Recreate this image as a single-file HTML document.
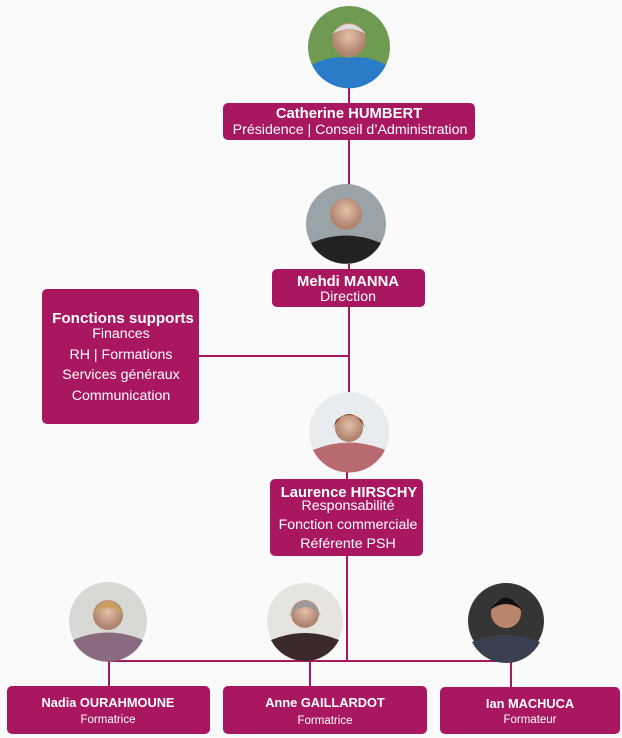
<!DOCTYPE html>
<html><head><meta charset="utf-8"><style>
html,body{margin:0;padding:0;background:#fafafa;}
svg{display:block}
text{font-family:"Liberation Sans",sans-serif;fill:#fff;text-anchor:middle}
.b{font-weight:bold;font-size:14.8px}
.n{font-size:14.2px}
.bb{font-weight:bold;font-size:12.8px}
.s{font-size:11.5px}
</style></head><body>
<svg width="622" height="738" viewBox="0 0 622 738" xmlns="http://www.w3.org/2000/svg">
<defs>
<radialGradient id="sk" cx="50%" cy="40%" r="50%"><stop offset="0" stop-color="#e6c0a6"/><stop offset="1" stop-color="#b08470"/></radialGradient>
</defs>
<rect width="622" height="738" fill="#fafafa"/>
<g stroke="#a8175f" stroke-width="2" fill="none">
<line x1="349" y1="88" x2="349" y2="185"/>
<line x1="349" y1="264" x2="349" y2="393"/>
<line x1="199" y1="356" x2="349" y2="356"/>
<line x1="347" y1="472" x2="347" y2="661"/>
<line x1="109" y1="661" x2="511" y2="661"/>
<line x1="109" y1="661" x2="109" y2="686"/>
<line x1="310" y1="661" x2="310" y2="686"/>
<line x1="511" y1="655" x2="511" y2="687"/>
</g>
<g>
<circle cx="349" cy="47" r="41" fill="#6f9a52"/>
<path d="M312 65 Q330 55 349 58 Q368 55 386 65 A41 41 0 0 1 312 65Z" fill="#2a7cc8"/>
<circle cx="349" cy="40" r="17" fill="url(#sk)"/>
<path d="M332 34 Q349 14 366 34 Q349 24 332 34Z" fill="#ddd"/>

<circle cx="346" cy="224" r="40" fill="#9aa4a8"/>
<path d="M311 243 Q346 228 381 243 A40 40 0 0 1 311 243Z" fill="#222"/>
<circle cx="346" cy="214" r="16" fill="url(#sk)"/>

<circle cx="349" cy="432" r="40" fill="#e9ecee"/>
<path d="M313 450 Q349 435 385 450 A40 40 0 0 1 313 450Z" fill="#b86a70"/>
<circle cx="349" cy="428" r="14" fill="url(#sk)"/>
<path d="M333 428 Q349 400 365 428 L362 420 Q349 410 336 420Z" fill="#8a4a2a"/>

<circle cx="108" cy="621" r="39" fill="#d8d8d4"/>
<path d="M73 640 Q108 625 143 640 A39 39 0 0 1 73 640Z" fill="#8a6a80"/>
<circle cx="108" cy="615" r="15" fill="url(#sk)"/>
<path d="M92 615 Q108 588 124 615 Q108 600 92 615Z" fill="#c9a060"/>

<circle cx="305" cy="621" r="38" fill="#e6e4de"/>
<path d="M271 640 Q305 626 339 640 A38 38 0 0 1 271 640Z" fill="#3a2a2a"/>
<circle cx="305" cy="614" r="14" fill="url(#sk)"/>
<path d="M289 616 Q305 585 321 616 Q305 598 289 616Z" fill="#999"/>

<circle cx="506" cy="621" r="38" fill="#353535"/>
<path d="M472 642 Q506 628 540 642 A38 38 0 0 1 472 642Z" fill="#3a4050"/>
<circle cx="506" cy="613" r="15" fill="#b8866a"/>
<path d="M490 610 Q506 585 522 610 Q506 598 490 610Z" fill="#111"/>
</g>
<g fill="#a8175f">
<rect x="223" y="103" width="252" height="37" rx="5"/>
<rect x="272" y="269" width="153" height="38" rx="5"/>
<rect x="42" y="289" width="157" height="135" rx="5"/>
<rect x="270" y="479" width="153" height="77" rx="5"/>
<rect x="7" y="686" width="203" height="48" rx="5"/>
<rect x="223" y="686" width="204" height="48" rx="5"/>
<rect x="440" y="687" width="180" height="47" rx="5"/>
</g>
<text class="b" x="349" y="118">Catherine HUMBERT</text>
<text class="n" x="350" y="134">Présidence | Conseil d’Administration</text>
<text class="b" x="348" y="286">Mehdi MANNA</text>
<text class="n" x="348" y="301">Direction</text>
<text class="b" x="123" y="323" style="font-size:15.2px">Fonctions supports</text>
<text class="n" x="121" y="338">Finances</text>
<text class="n" x="121" y="359">RH | Formations</text>
<text class="n" x="121" y="379">Services généraux</text>
<text class="n" x="121" y="400">Communication</text>
<text class="b" x="349" y="497">Laurence HIRSCHY</text>
<text class="n" x="348" y="510">Responsabilité</text>
<text class="n" x="348" y="529">Fonction commerciale</text>
<text class="n" x="348" y="548">Référente PSH</text>
<text class="bb" x="108" y="707">Nadia OURAHMOUNE</text>
<text class="s" x="108" y="723">Formatrice</text>
<text class="bb" x="325" y="707">Anne GAILLARDOT</text>
<text class="s" x="325" y="724">Formatrice</text>
<text class="bb" x="530" y="708">Ian  MACHUCA</text>
<text class="s" x="530" y="723">Formateur</text>
</svg>
</body></html>
